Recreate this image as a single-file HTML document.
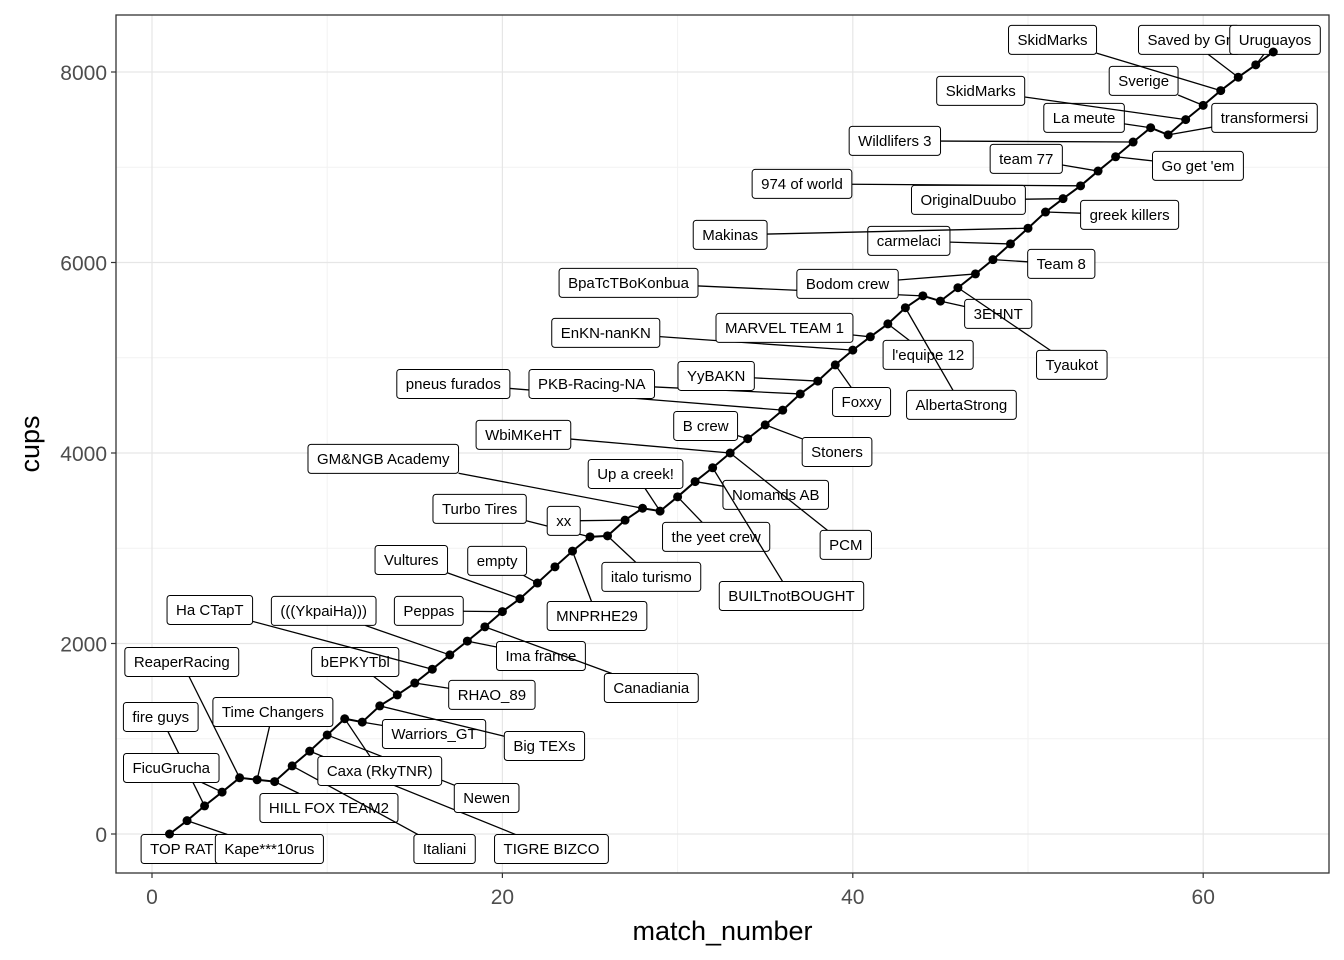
<!DOCTYPE html>
<html><head><meta charset="utf-8"><style>
html,body{margin:0;padding:0;background:#fff;}
svg{display:block;font-family:"Liberation Sans",Arial,sans-serif;}
</style></head><body>
<svg id="chart" width="1344" height="960"></svg>
<script>
const matchNumbers=[];for(let i=1;i<=64;i++)matchNumbers.push(i);
const cupsValues=[0,140,295,440,590,570,550,715,870,1040,1210,1175,1345,1460,1585,1730,1880,2025,2175,2335,2470,2635,2805,2970,3120,3130,3295,3420,3390,3540,3700,3845,4000,4150,4295,4450,4620,4755,4925,5080,5220,5355,5525,5650,5595,5735,5880,6030,6195,6360,6530,6670,6805,6960,7110,7265,7415,7340,7500,7650,7805,7945,8075,8210];
const labelTexts=["TOP RAT","Kape***10rus","fire guys","FicuGrucha","ReaperRacing","Time Changers","HILL FOX TEAM2","Italiani","TIGRE BIZCO","Newen","Caxa (RkyTNR)","Warriors_GT","Big TEXs","bEPKYTbl","RHAO_89","Ha CTapT","(((YkpaiHa)))","Ima france","Canadiania","Peppas","Vultures","empty","italo turismo","MNPRHE29","Turbo Tires","xx","GM&NGB Academy","Up a creek!","the yeet crew","Nomands AB","BUILTnotBOUGHT","PCM","WbiMKeHT","B crew","Stoners","pneus furados","PKB-Racing-NA","YyBAKN","Foxxy","EnKN-nanKN","MARVEL TEAM 1","l'equipe 12","AlbertaStrong","BpaTcTBoKonbua","3EHNT","Tyaukot","Bodom crew","Team 8","carmelaci","Makinas","greek killers","OriginalDuubo","974 of world","team 77","Go get 'em","Wildlifers 3","La meute","transformersi","SkidMarks","Sverige","SkidMarks","Saved by Gr","Uruguayos"];
const labelMatch=[1,2,3,4,5,6,7,8,9,10,11,12,13,14,15,16,17,18,19,20,21,22,26,24,25,27,28,29,30,31,32,33,33,34,35,36,37,38,39,40,41,42,43,44,45,46,47,48,49,50,51,52,53,54,55,56,57,58,59,60,61,62,63];
const labelX=[1.7,6.7,0.5,1.1,1.7,6.9,10.1,16.7,22.8,19.1,13.0,16.1,22.4,11.6,19.4,3.3,9.8,22.2,28.5,15.8,14.8,19.7,28.5,25.4,18.7,23.5,13.2,27.6,32.2,35.6,36.5,39.6,21.2,31.6,39.1,17.2,25.1,32.2,40.5,25.9,36.1,44.3,46.2,27.2,48.3,52.5,39.7,51.9,43.2,33.0,55.8,46.6,37.1,49.9,59.7,42.4,53.2,63.5,47.3,56.6,51.4,59.2,64.1];
const labelY=[-158,-158,1229,693,1806,1281,273,-158,-158,378,662,1050,924,1806,1460,2352,2342,1869,1533,2342,2877,2867,2699,2289,3413,3287,3938,3780,3119,3560,2499,3035,4190,4284,4011,4725,4725,4809,4536,5261,5313,5030,4505,5786,5460,4925,5775,5985,6227,6290,6500,6657,6825,7088,7014,7277,7518,7518,7802,7907,8337,8337,8337];
const xTicks=[0,20,40,60];
const yTicks=[0,2000,4000,6000,8000];
const xMinor=[10,30,50];
const yMinor=[1000,3000,5000,7000];

const NS="http://www.w3.org/2000/svg";
const svg=document.getElementById('chart');
const L=116,R=1329,T=15,B=873;
const xs=m=>152+(m-0)*17.52;
const ys=c=>834-c*0.09525;
function mk(tag,attrs,parent){const e=document.createElementNS(NS,tag);for(const k in attrs)e.setAttribute(k,attrs[k]);(parent||svg).appendChild(e);return e;}

const clip=mk('clipPath',{id:'pclip'});mk('rect',{x:L,y:T,width:R-L,height:B-T},clip);
const panel=mk('g',{'clip-path':'url(#pclip)'});



xMinor.forEach(v=>{const l=mk('line',{x1:xs(v),x2:xs(v),y1:T,y2:B,stroke:'#f2f2f2','stroke-width':1},panel);});
yMinor.forEach(v=>{const l=mk('line',{x1:L,x2:R,y1:ys(v),y2:ys(v),stroke:'#f2f2f2','stroke-width':1},panel);});
xTicks.forEach(v=>{const l=mk('line',{x1:xs(v),x2:xs(v),y1:T,y2:B,stroke:'#e6e6e6','stroke-width':1.2},panel);});
yTicks.forEach(v=>{const l=mk('line',{x1:L,x2:R,y1:ys(v),y2:ys(v),stroke:'#e6e6e6','stroke-width':1.2},panel);});

// labels with segments
labelTexts.forEach((t,i)=>{
  const g=mk('g',{},panel);
  
  
  const cx=xs(labelX[i]),cy=ys(labelY[i]);
  const pi=labelMatch[i]-1;
  const px=xs(matchNumbers[pi]),py=ys(cupsValues[pi]);
  const seg=mk('line',{x1:px,y1:py,x2:cx,y2:cy,stroke:'#000','stroke-width':1.3},g);
  
  
  const rect=mk('rect',{fill:'#fff',stroke:'#000','stroke-width':1,rx:3,ry:3},g);
  
  
  const tx=mk('text',{x:cx,y:cy+5,'text-anchor':'middle','font-size':15,fill:'#000'},g);
  tx.textContent=t;
  
  
  const w=tx.getComputedTextLength()+18;
  rect.setAttribute('x',cx-w/2);rect.setAttribute('y',cy-14.5);rect.setAttribute('width',w);rect.setAttribute('height',29);
  // shorten connector to box edge
  const dx=cx-px,dy=cy-py;
  let s=1;
  if(Math.abs(dx)>0){s=Math.min(s,(w/2)/Math.abs(dx));}
  if(Math.abs(dy)>0){s=Math.min(s,14.5/Math.abs(dy));}
  seg.setAttribute('x2',cx-dx*s);seg.setAttribute('y2',cy-dy*s);
});

// trajectory line
let d='';matchNumbers.forEach((m,i)=>{d+=(i?'L':'M')+xs(m)+','+ys(cupsValues[i]);});
const path=mk('path',{d:d,fill:'none',stroke:'#000','stroke-width':2},panel);


matchNumbers.forEach((m,i)=>{
  const c=mk('circle',{cx:xs(m),cy:ys(cupsValues[i]),r:4.5,fill:'#000'},panel);
  
  
});

const border=mk('rect',{x:L,y:T,width:R-L,height:B-T,fill:'none',stroke:'#333','stroke-width':1.3});



xTicks.forEach(v=>{
  const tk=mk('line',{x1:xs(v),x2:xs(v),y1:B,y2:B+5,stroke:'#333','stroke-width':1.2});
  
  
  const t=mk('text',{x:xs(v),y:B+31,'text-anchor':'middle','font-size':21,fill:'#4d4d4d'});t.textContent=v;
  
  
});
yTicks.forEach(v=>{
  const tk=mk('line',{x1:L-5,x2:L,y1:ys(v),y2:ys(v),stroke:'#333','stroke-width':1.2});
  
  
  const t=mk('text',{x:L-9,y:ys(v)+8,'text-anchor':'end','font-size':21,fill:'#4d4d4d'});t.textContent=v;
  
  
});
const xt=mk('text',{x:(L+R)/2,y:940,'text-anchor':'middle','font-size':27,fill:'#000'});xt.textContent='match_number';


const yt=mk('text',{x:0,y:0,'text-anchor':'middle','font-size':27,fill:'#000',transform:'translate(39,444) rotate(-90)'});yt.textContent='cups';


</script>
</body></html>
